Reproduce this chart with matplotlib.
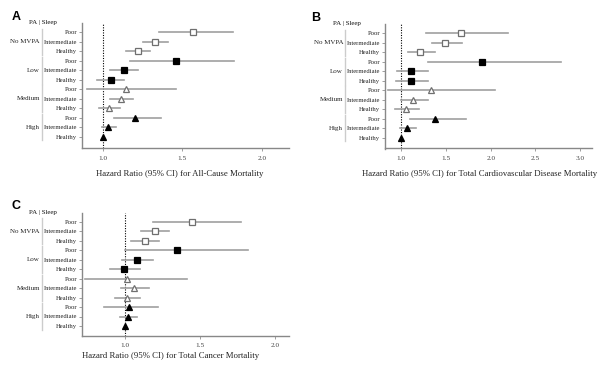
import matplotlib.pyplot as plt

plt.rcParams['font.family'] = ['Liberation Serif', 'DejaVu Serif']

# groups and sleep categories (rows top to bottom)
pa_groups = ['No MVPA', 'Low', 'Medium', 'High']
sleep_cats = ['Poor', 'Intermediate', 'Healthy']

# A: all-cause mortality
hr_a = [1.569, 1.328, 1.221, 1.462, 1.132, 1.050, 1.149, 1.113, 1.042, 1.206, 1.036, 1.000]
lo_a = [1.353, 1.252, 1.149, 1.172, 1.048, 0.968, 0.905, 1.044, 0.975, 1.069, 0.994, None]
hi_a = [1.819, 1.408, 1.300, 1.828, 1.223, 1.134, 1.464, 1.191, 1.111, 1.368, 1.082, None]

# B: total cardiovascular disease mortality
hr_b = [1.670, 1.496, 1.215, 1.907, 1.111, 1.107, 1.330, 1.137, 1.056, 1.374, 1.063, 1.000]
lo_b = [1.274, 1.348, 1.074, 1.307, 0.956, 0.948, 0.859, 1.000, 0.930, 1.096, 0.985, None]
hi_b = [2.189, 1.678, 1.374, 2.789, 1.296, 1.304, 2.052, 1.296, 1.204, 1.726, 1.163, None]

# C: total cancer mortality
hr_c = [1.449, 1.196, 1.129, 1.349, 1.076, 0.993, 1.013, 1.060, 1.009, 1.024, 1.018, 1.000]
lo_c = [1.184, 1.107, 1.040, 1.000, 0.976, 0.896, 0.733, 0.969, 0.931, 0.860, 0.967, None]
hi_c = [1.771, 1.291, 1.224, 1.820, 1.189, 1.100, 1.413, 1.156, 1.096, 1.218, 1.080, None]

markers = {'No MVPA': ('s', 'white', '#6f6f6f'), 'Low': ('s', 'black', 'black'),
           'Medium': ('^', 'white', '#6f6f6f'), 'High': ('^', 'black', 'black')}

W, H = 600, 365
fig = plt.figure(figsize=(6, 3.65), dpi=100)


def panel(letter, hr, lo, hi, box, first_row, step, xlim, xticks, xlabel, xlab_pos,
          pa_right, header_x, letter_pos):
    l, t, r, b = box
    ax = fig.add_axes([l / W, 1 - b / H, (r - l) / W, (b - t) / H])
    n = len(hr)
    rows = list(range(n))
    for i in rows:
        g = pa_groups[i // 3]
        m, fc, ec = markers[g]
        if lo[i] is not None:
            ax.plot([lo[i], hi[i]], [i, i], color='#a0a0a0', lw=1.2, zorder=2)
        ax.plot(hr[i], i, marker=m, ms=4.0, mfc=fc, mec=ec, mew=0.9, ls='none', zorder=3)
    ax.axvline(1.0, color='black', ls=(0, (1, 1.3)), lw=0.8, zorder=1)
    ax.set_xlim(*xlim)
    ax.set_ylim((b - first_row) / step, (t - first_row) / step)
    ax.set_yticks(rows)
    ax.set_yticklabels(sleep_cats * 4, fontsize=4.8, color='#222222')
    ax.set_xticks(xticks)
    ax.set_xticklabels(['%.1f' % v for v in xticks], fontsize=5.2, color='#444444')
    ax.tick_params(axis='both', length=2, width=0.5, color='#777777', pad=1.5)
    ax.tick_params(axis='x', pad=3.5)
    for s in ['top', 'right']:
        ax.spines[s].set_visible(False)
    for s in ['left', 'bottom']:
        ax.spines[s].set_color('#888888')
        ax.spines[s].set_linewidth(1.0)
    ytr = ax.get_yaxis_transform()
    wpx = r - l
    for k, g in enumerate(pa_groups):
        ax.text((pa_right - l) / wpx, 3 * k + 1, g, transform=ytr, ha='right', va='center',
                fontsize=5.0, color='#222222')
        ax.plot([(pa_right + 2 - l) / wpx] * 2, [3 * k - 0.4, 3 * k + 2.4], transform=ytr,
                color='#cccccc', lw=1.0, clip_on=False)
    ax.text((header_x - l) / wpx, -1, 'PA | Sleep', transform=ytr, ha='left', va='center',
            fontsize=5.0, color='#111111')
    fig.text(xlab_pos[0] / W, 1 - xlab_pos[1] / H, xlabel, ha='center', va='center',
             fontsize=6.3, color='#222222')
    fig.text(letter_pos[0] / W, 1 - letter_pos[1] / H, letter, ha='left', va='baseline',
             fontsize=9, fontweight='bold', family=['Liberation Sans', 'DejaVu Sans'])
    return ax


panel('A', hr_a, lo_a, hi_a, (82, 23, 289, 148), 32.3, 9.49, (0.871, 2.171), [1.0, 1.5, 2.0],
      'Hazard Ratio (95% CI) for All-Cause Mortality', (180, 174), 40, 29, (11.5, 20.3))
panel('B', hr_b, lo_b, hi_b, (385, 24, 592, 148.5), 33.3, 9.49, (0.822, 3.13),
      [1.0, 1.5, 2.0, 2.5, 3.0],
      'Hazard Ratio (95% CI) for Total Cardiovascular Disease Mortality', (480, 174.3), 343,
      333, (311.5, 20.7))
panel('C', hr_c, lo_c, hi_c, (82, 212.5, 289, 335.7), 221.7, 9.48, (0.711, 2.095),
      [1.0, 1.5, 2.0],
      'Hazard Ratio (95% CI) for Total Cancer Mortality', (171, 355.5), 40, 29, (11.5, 209.3))

fig.savefig('out.png', dpi=100)
